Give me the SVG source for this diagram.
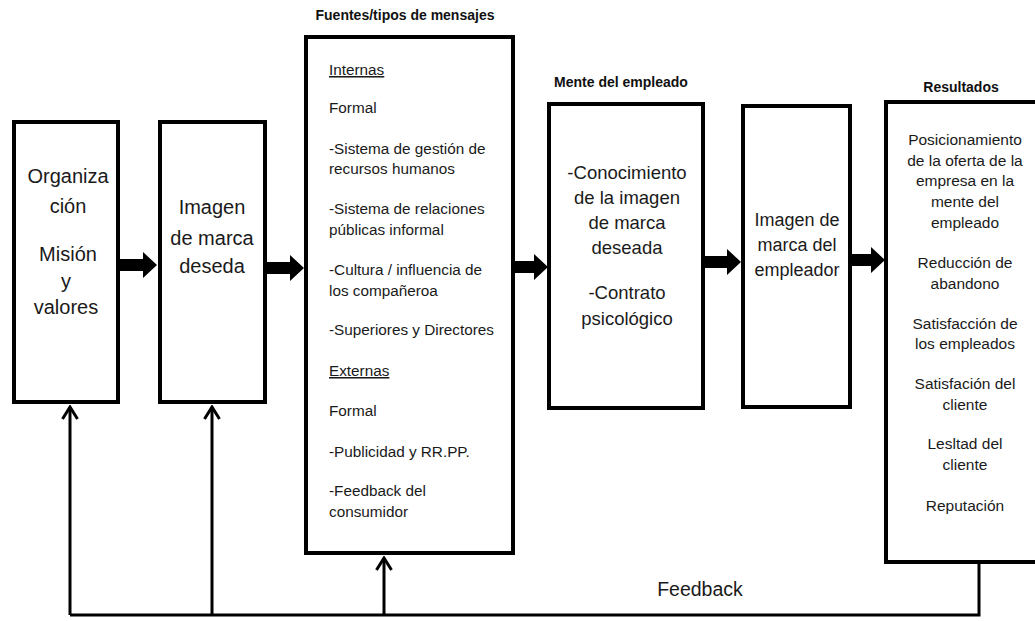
<svg xmlns="http://www.w3.org/2000/svg" width="1035" height="621" viewBox="0 0 1035 621">
<defs>
<style>
.box{fill:#fff;stroke:#000;stroke-width:4}
.t{font-family:"Liberation Sans",Arial,sans-serif;fill:#1a1a1a}
.big{font-size:20px;text-anchor:middle}
.mid{font-size:18.5px;text-anchor:middle}
.mid2{font-size:18px;text-anchor:middle}
.sm{font-size:15.3px}
.res{font-size:15.5px;text-anchor:middle}
.hd{font-size:14px;font-weight:bold;fill:#111;text-anchor:middle}
.u{text-decoration:underline}
.fb{fill:none;stroke:#000;stroke-width:3}
.blk{fill:#000}
</style>
<marker id="open" viewBox="0 0 16 18" refX="14" refY="9" markerWidth="16" markerHeight="18" markerUnits="userSpaceOnUse" orient="auto">
<path d="M2,1.5 L14,9 L2,16.5" fill="none" stroke="#000" stroke-width="3"/>
</marker>
</defs>

<g id="node-organizacion">
<rect class="box" x="14" y="122" width="104" height="280"/>
<text class="t big" x="68" y="183">Organiza</text>
<text class="t big" x="68" y="213">ción</text>
<text class="t big" x="68" y="261">Misión</text>
<text class="t big" x="66" y="288">y</text>
<text class="t big" x="66" y="314">valores</text>
</g>

<g id="node-imagen-deseada">
<rect class="box" x="160" y="122" width="105" height="280"/>
<text class="t big" x="212" y="214">Imagen</text>
<text class="t big" x="212" y="245">de marca</text>
<text class="t big" x="212" y="273">deseda</text>
</g>

<g id="node-fuentes">
<text class="t hd" x="405" y="20">Fuentes/tipos de mensajes</text>
<rect class="box" x="306" y="37" width="207" height="516"/>
<text class="t sm u" x="329" y="75">Internas</text>
<text class="t sm" x="329" y="113">Formal</text>
<text class="t sm" x="329" y="154">-Sistema de gestión de</text>
<text class="t sm" x="329" y="174">recursos humanos</text>
<text class="t sm" x="329" y="214">-Sistema de relaciones</text>
<text class="t sm" x="329" y="235">públicas informal</text>
<text class="t sm" x="329" y="275">-Cultura / influencia de</text>
<text class="t sm" x="329" y="296">los compañeroa</text>
<text class="t sm" x="329" y="335">-Superiores y Directores</text>
<text class="t sm u" x="329" y="376">Externas</text>
<text class="t sm" x="329" y="416">Formal</text>
<text class="t sm" x="329" y="457">-Publicidad y RR.PP.</text>
<text class="t sm" x="329" y="496">-Feedback del</text>
<text class="t sm" x="329" y="517">consumidor</text>
</g>

<g id="node-mente">
<text class="t hd" x="621" y="87">Mente del empleado</text>
<rect class="box" x="549" y="104" width="154" height="304"/>
<text class="t mid" x="627" y="179">-Conocimiento</text>
<text class="t mid" x="627" y="204">de la imagen</text>
<text class="t mid" x="627" y="229">de marca</text>
<text class="t mid" x="627" y="254">deseada</text>
<text class="t mid" x="627" y="299">-Contrato</text>
<text class="t mid" x="627" y="325">psicológico</text>
</g>

<g id="node-imagen-empleador">
<rect class="box" x="743" y="106" width="107" height="301"/>
<text class="t mid2" x="797" y="226">Imagen de</text>
<text class="t mid2" x="797" y="251">marca del</text>
<text class="t mid2" x="797" y="276">empleador</text>
</g>

<g id="node-resultados">
<text class="t hd" x="961" y="92">Resultados</text>
<rect class="box" x="886" y="102" width="160" height="460"/>
<text class="t res" x="965" y="145">Posicionamiento</text>
<text class="t res" x="965" y="166">de la oferta de la</text>
<text class="t res" x="965" y="186">empresa en la</text>
<text class="t res" x="965" y="207">mente del</text>
<text class="t res" x="965" y="228">empleado</text>
<text class="t res" x="965" y="268">Reducción de</text>
<text class="t res" x="965" y="289">abandono</text>
<text class="t res" x="965" y="329">Satisfacción de</text>
<text class="t res" x="965" y="349">los empleados</text>
<text class="t res" x="965" y="389">Satisfación del</text>
<text class="t res" x="965" y="410">cliente</text>
<text class="t res" x="965" y="449">Lesltad del</text>
<text class="t res" x="965" y="470">cliente</text>
<text class="t res" x="965" y="511">Reputación</text>
</g>

<g id="connectors">
<path class="blk" d="M120,259 H143 V252 L157,265 L143,278 V271 H120 Z"/>
<path class="blk" d="M267,262 H290 V255 L304,268 L290,281 V274 H267 Z"/>
<path class="blk" d="M515,261 H534 V254 L548,267 L534,280 V273 H515 Z"/>
<path class="blk" d="M705,256 H727 V249 L741,262 L727,275 V268 H705 Z"/>
<path class="blk" d="M852,254 H871 V247 L885,260 L871,273 V266 H852 Z"/>
<path class="fb" d="M979,562 V615 H70"/>
<path class="fb" d="M70,615 V407" marker-end="url(#open)"/>
<path class="fb" d="M212,615 V407" marker-end="url(#open)"/>
<path class="fb" d="M384,615 V558" marker-end="url(#open)"/>
<text class="t" x="700" y="596" font-size="19.5" text-anchor="middle">Feedback</text>
</g>
</svg>
